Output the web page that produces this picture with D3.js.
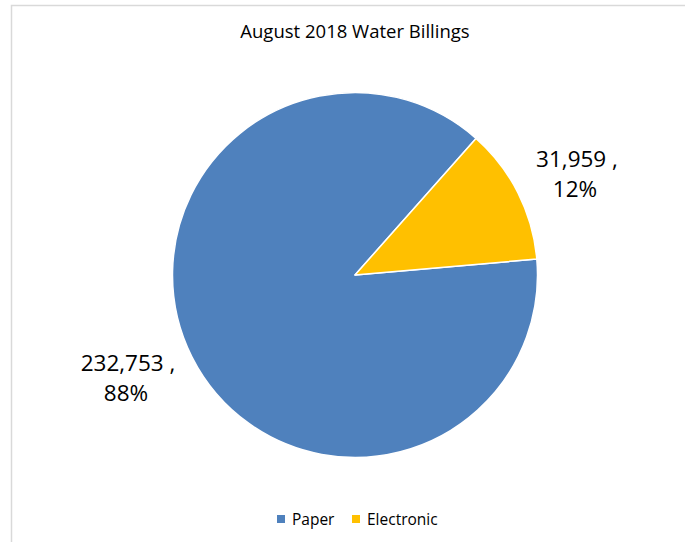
<!DOCTYPE html>
<html>
<head>
<meta charset="utf-8">
<script src="https://cdn.jsdelivr.net/npm/d3@7"></script>
<style>
  html, body { margin: 0; padding: 0; background: #fff; }
  svg { display: block; }
</style>
</head>
<body>
<svg id="chart" width="685" height="542"></svg>
<script>
const categories = ["Paper", "Electronic"];
const values = [232753, 31959];
const percents = ["88%", "12%"];
const colors = ["#4f81bd", "#ffc000"];
const title = "August 2018 Water Billings";

const W = 685, H = 542;
const svg = d3.select("#chart");
const font = "'Open Sans', 'Noto Sans', sans-serif";

// chart area border
svg.append("rect")
  .attr("x", 11.5).attr("y", 5.5)
  .attr("width", W + 10).attr("height", H + 10)
  .attr("fill", "#fff")
  .attr("stroke", "#d9d9d9").attr("stroke-width", 1.5);

svg.append("text")
  .attr("x", 355).attr("y", 38)
  .attr("text-anchor", "middle")
  .attr("font-family", font)
  .attr("font-size", 18.5)
  .attr("fill", "#000")
  .text(title);

const cx = 355, cy = 275, R = 182.5;
const pie = d3.pie().sort(null).value(d => d)
  .startAngle(85 * Math.PI / 180)
  .endAngle(85 * Math.PI / 180 + 2 * Math.PI);
const arcs = pie(values);
const arc = d3.arc().innerRadius(0).outerRadius(R);

const g = svg.append("g").attr("transform", `translate(${cx},${cy})`);
g.selectAll("path").data(arcs).join("path")
  .attr("d", arc)
  .attr("fill", (d, i) => colors[i])
  .attr("stroke", "#fff")
  .attr("stroke-width", 1.5)
  .attr("stroke-linejoin", "round");

const fmt = d3.format(",");
// data label anchor positions relative to pie centre
const labelPos = [[-227, 96], [222, -108]];
arcs.forEach((d, i) => {
  const x = cx + labelPos[i][0], y = cy + labelPos[i][1];
  const t = svg.append("text")
    .attr("text-anchor", "middle")
    .attr("font-family", font)
    .attr("font-size", 22.5)
    .attr("fill", "#000");
  t.append("tspan").attr("x", x).attr("y", y).text(fmt(values[i]) + " ,");
  t.append("tspan").attr("x", x - 2).attr("y", y + 30).text(percents[i]);
});

// legend
const legend = svg.append("g");
const legX = [277, 352];
categories.forEach((c, i) => {
  legend.append("rect")
    .attr("x", legX[i]).attr("y", 515)
    .attr("width", 8).attr("height", 8)
    .attr("fill", colors[i]);
  legend.append("text")
    .attr("x", legX[i] + 15).attr("y", 525)
    .attr("font-family", font)
    .attr("font-size", 15.5)
    .attr("fill", "#000")
    .text(c);
});
</script>
</body>
</html>
